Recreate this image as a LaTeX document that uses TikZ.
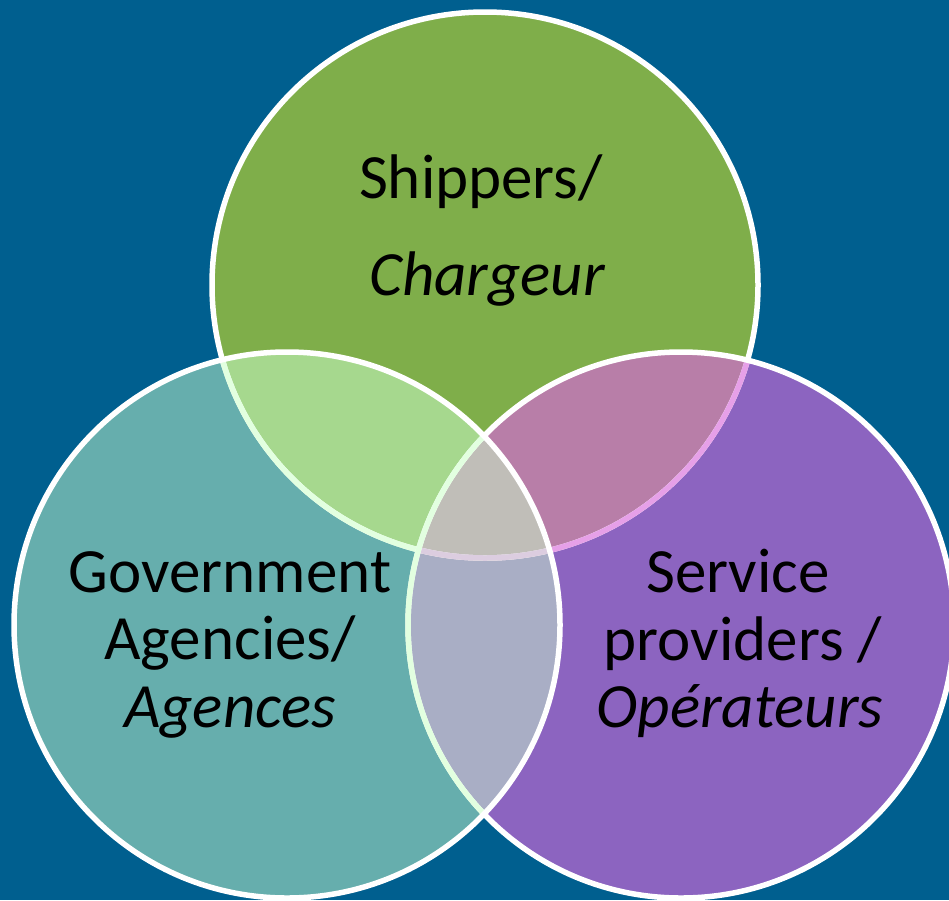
\documentclass[tikz,border=0pt]{standalone}
\usepackage{fontspec}
\setmainfont{Carlito}
\definecolor{bgblue}{HTML}{005F8F}
\definecolor{cTop}{HTML}{7FAE4A}
\definecolor{cLeft}{HTML}{66AEAD}
\definecolor{cRight}{HTML}{8C64C0}
\definecolor{cTL}{HTML}{A6D88E}
\definecolor{cTR}{HTML}{B87EA8}
\definecolor{cLR}{HTML}{A9AEC5}
\definecolor{cAll}{HTML}{C0BEB8}
\definecolor{sGreen}{HTML}{E2FFE0}
\definecolor{sPink}{HTML}{E6A0E8}
\definecolor{sLav}{HTML}{DCCDE0}
\begin{document}
\begin{tikzpicture}[x=1pt,y=-1pt,
  ring/.style={line width=5.5pt},
  lbl/.style={anchor=base,inner sep=0pt,font=\fontsize{63}{70}\selectfont}]
\useasboundingbox (0,0) rectangle (949,900);
\fill[bgblue] (0,0) rectangle (949,900);
\clip (0,0) rectangle (949,900);
\coordinate (T) at (485,285);
\coordinate (L) at (287,625);
\coordinate (R) at (681,625);
\def\rr{273pt}
% base fills
\fill[cTop] (T) circle[radius=\rr];
\fill[cLeft] (L) circle[radius=\rr];
\fill[cRight] (R) circle[radius=\rr];
% left-right overlap
\begin{scope}
  \clip (L) circle[radius=\rr];
  \fill[cLR] (R) circle[radius=\rr];
\end{scope}
% overlaps with top
\begin{scope}
  \clip (T) circle[radius=\rr];
  \fill[cTL] (L) circle[radius=\rr];
  \fill[cTR] (R) circle[radius=\rr];
  \clip (L) circle[radius=\rr];
  \fill[cAll] (R) circle[radius=\rr];
\end{scope}
% top circle outline
\draw[ring,white] (T) circle[radius=\rr];
\begin{scope}
  \clip (R) circle[radius=\rr];
  \draw[ring,sPink] (T) circle[radius=\rr];
\end{scope}
\begin{scope}
  \clip (L) circle[radius=\rr];
  \draw[ring,sGreen] (T) circle[radius=\rr];
  \clip (R) circle[radius=\rr];
  \draw[ring,sLav] (T) circle[radius=\rr];
\end{scope}
% right circle outline
\draw[ring,white] (R) circle[radius=\rr];
\begin{scope}
  \clip (L) circle[radius=\rr];
  \draw[ring,sGreen] (R) circle[radius=\rr];
\end{scope}
% left circle outline
\draw[ring,white] (L) circle[radius=\rr];
% labels
\node[lbl] (t1) at (481,198) {Shippers/};
\node[lbl] (t2) at (487,295) {\itshape Chargeur};
\node[lbl] (l1) at (230,592) {Government};
\node[lbl] (l2) at (230,659) {Agencies/};
\node[lbl] (l3) at (230,727) {\itshape Agences};
\node[lbl] (r1) at (738,592) {Service};
\node[lbl] (r2) at (743,660) {providers /};
\node[lbl] (r3) at (740,727) {\itshape Opérateurs};
\end{tikzpicture}
\end{document}
